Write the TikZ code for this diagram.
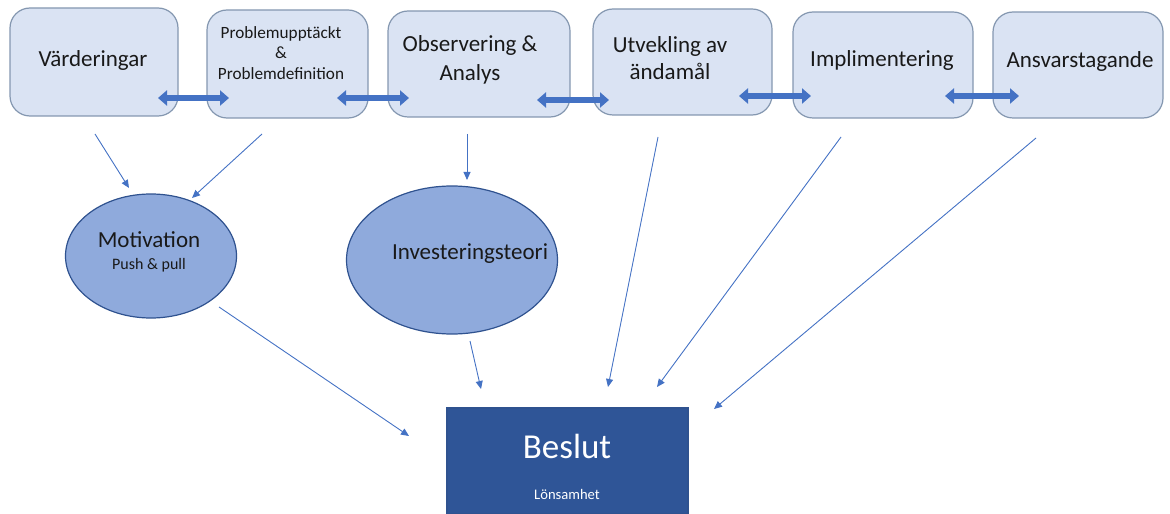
\documentclass[tikz,border=0pt]{standalone}
\usepackage{fontspec}
\setmainfont{Carlito}
\usetikzlibrary{arrows.meta,shapes.geometric,calc}
\definecolor{boxfill}{HTML}{DAE3F3}
\definecolor{boxdraw}{HTML}{8497B0}
\definecolor{ellfill}{HTML}{8FAADC}
\definecolor{elldraw}{HTML}{2F528F}
\definecolor{arrblue}{HTML}{4472C4}
\definecolor{beslutfill}{HTML}{2F5597}
\tikzset{
  stepbox/.style={draw=boxdraw, fill=boxfill, line width=0.6pt, rounded corners=10pt, inner sep=0pt},
  boxtext/.style={font=\fontsize{11.5pt}{13.5pt}\selectfont, align=center, inner sep=0pt, text=black!90},
  ell/.style={ellipse, draw=elldraw, fill=ellfill, line width=0.6pt, inner sep=0pt},
  dbl/.style={arrblue, line width=3pt, {Triangle[width=7.5pt,length=4.5pt]}-{Triangle[width=7.5pt,length=4.5pt]}},
  thin/.style={arrblue, line width=0.45pt, -{Triangle[width=3.5pt,length=4pt]}}
}
\begin{document}
\begin{tikzpicture}[x=0.5pt,y=-0.5pt]
\useasboundingbox (0,0) rectangle (1170,513);
% top boxes
\node[stepbox, minimum width=84pt, minimum height=54pt] (b1) at (94,62) {};
\node[stepbox, minimum width=80.5pt, minimum height=54pt] (b2) at (287.5,64) {};
\node[stepbox, minimum width=91pt, minimum height=53pt] (b3) at (479,64) {};
\node[stepbox, minimum width=89.5pt, minimum height=53pt] (b4) at (682.5,62) {};
\node[stepbox, minimum width=90pt, minimum height=53pt] (b5) at (883,65) {};
\node[stepbox, minimum width=85pt, minimum height=53pt] (b6) at (1078,65) {};
% texts
\node[boxtext] (t1) at (93,60) {Värderingar};
\node[boxtext, font=\fontsize{8.6pt}{10.2pt}\selectfont] (t2) at (281,53) {Problemupptäckt\\\&\\Problemdefinition};
\node[boxtext, font=\fontsize{11.5pt}{14.5pt}\selectfont] (t3) at (470,60) {Observering \&\\Analys};
\node[boxtext, font=\fontsize{11.5pt}{13.5pt}\selectfont] (t4) at (670,58) {Utvekling av\\ändamål};
\node[boxtext] (t5) at (882,60) {Implimentering};
\node[boxtext] (t6) at (1080,61) {Ansvarstagande};
% ellipses
\node[ell, minimum width=85.5pt, minimum height=62pt] (mot) at (151,256) {};
\node[boxtext] (mott) at (149,240) {Motivation};
\node[boxtext, font=\fontsize{8pt}{9pt}\selectfont] (motp) at (149,265) {Push \& pull};
\node[ell, minimum width=105.5pt, minimum height=74pt] (inv) at (452,260) {};
\node[boxtext] (invt) at (470,254) {Investeringsteori};
% Beslut
\node[draw=elldraw, fill=beslutfill, line width=0.6pt, minimum width=120.5pt, minimum height=53pt, inner sep=0pt] (bes) at (567.5,461) {};
\node[text=white, font=\fontsize{17.5pt}{20pt}\selectfont, inner sep=0pt] (best) at (567,446) {Beslut};
\node[text=white, font=\fontsize{7.3pt}{8pt}\selectfont, inner sep=0pt] (besl) at (567,494) {Lönsamhet};
% double arrows
\coordinate (d1a) at (158,98); \coordinate (d1b) at (229,98);
\coordinate (d2a) at (337,98); \coordinate (d2b) at (409,98);
\coordinate (d3a) at (537,100); \coordinate (d3b) at (609,100);
\coordinate (d4a) at (739,96); \coordinate (d4b) at (811,96);
\coordinate (d5a) at (945,96); \coordinate (d5b) at (1019,96);
\draw[dbl] (d1a) -- (d1b);
\draw[dbl] (d2a) -- (d2b);
\draw[dbl] (d3a) -- (d3b);
\draw[dbl] (d4a) -- (d4b);
\draw[dbl] (d5a) -- (d5b);
% thin arrows
\coordinate (a1s) at (95,134); \coordinate (a1e) at (129,188);
\coordinate (a2s) at (262,134); \coordinate (a2e) at (192,198);
\coordinate (a3s) at (467,134); \coordinate (a3e) at (467,180);
\coordinate (a4s) at (219,307); \coordinate (a4e) at (409,436);
\coordinate (a5s) at (470,341); \coordinate (a5e) at (481,389);
\coordinate (a6s) at (658,137); \coordinate (a6e) at (608,387);
\coordinate (a7s) at (841,137); \coordinate (a7e) at (657,387);
\coordinate (a8s) at (1036,138); \coordinate (a8e) at (714,409);
\draw[thin] (a1s) -- (a1e);
\draw[thin] (a2s) -- (a2e);
\draw[thin] (a3s) -- (a3e);
\draw[thin] (a4s) -- (a4e);
\draw[thin] (a5s) -- (a5e);
\draw[thin] (a6s) -- (a6e);
\draw[thin] (a7s) -- (a7e);
\draw[thin] (a8s) -- (a8e);
\end{tikzpicture}
\end{document}
